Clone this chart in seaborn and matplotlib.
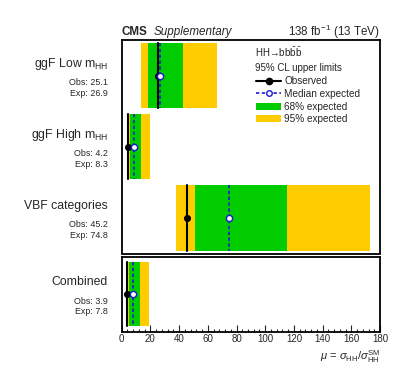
import matplotlib
matplotlib.use("Agg")
import matplotlib.pyplot as plt
from matplotlib.lines import Line2D
from matplotlib.patches import Patch
from matplotlib.ticker import MultipleLocator
import seaborn as sns
import pandas as pd

categories = ["ggF Low m$_{\\rm HH}$", "ggF High m$_{\\rm HH}$", "VBF categories", "Combined"]
observed = [25.1, 4.2, 45.2, 3.9]
expected = [26.9, 8.3, 74.8, 7.8]
lo68 = [18.6, 5.8, 51.3, 5.3]
hi68 = [42.9, 13.4, 115.4, 12.8]
lo95 = [13.4, 3.7, 37.6, 3.7]
hi95 = [66.4, 20.0, 173.3, 19.0]
obs_text = ["25.1", "4.2", "45.2", "3.9"]
exp_text = ["26.9", "8.3", "74.8", "7.8"]

sns.set_style("ticks")
plt.rcParams['font.family'] = ['Liberation Sans', 'DejaVu Sans']
plt.rcParams['mathtext.fontset'] = 'custom'
plt.rcParams['mathtext.rm'] = 'Liberation Sans'
plt.rcParams['mathtext.it'] = 'Liberation Sans:italic'

W, H = 407, 391
fig = plt.figure(figsize=(W / 100, H / 100), dpi=100)
L, R = 121.7 / W, 380 / W
ax_top = fig.add_axes([L, 1 - 253.5 / H, R - L, (253.5 - 40) / H])
ax_bot = fig.add_axes([L, 1 - 331.5 / H, R - L, (331.5 - 257) / H])

YEL = "#FFCC00"
GRN = "#00CC00"
BLU = "#1a1ad0"

df = pd.DataFrame({"cat": categories, "obs": observed, "exp": expected,
                   "lo68": lo68, "hi68": hi68, "lo95": lo95, "hi95": hi95})
top = df.iloc[:3].copy()
top["y"] = [0.5, 1.5, 2.5]
bot = df.iloc[3:].copy()
bot["y"] = [0.5]

def draw(ax, d, h):
    ax.barh(d["y"], d["hi95"] - d["lo95"], left=d["lo95"], height=h, color=YEL, linewidth=0)
    ax.barh(d["y"], d["hi68"] - d["lo68"], left=d["lo68"], height=h, color=GRN, linewidth=0)
    for _, r in d.iterrows():
        ax.plot([r["obs"], r["obs"]], [r["y"] - h / 2, r["y"] + h / 2], color="black", lw=1.5, zorder=3)
        ax.plot([r["exp"], r["exp"]], [r["y"] - h / 2, r["y"] + h / 2], color=BLU, lw=1.2,
                ls=(0, (2, 1.5)), zorder=3)
    sns.scatterplot(x=d["obs"], y=d["y"], ax=ax, color="black", s=26, zorder=4, linewidth=0, legend=False)
    sns.scatterplot(x=d["exp"], y=d["y"], ax=ax, facecolor="white", edgecolor=BLU, s=20,
                    linewidth=1.0, zorder=4, legend=False)
    for _, r in d.iterrows():
        ax.annotate(r["cat"], xy=(-0.053, r["y"]), xycoords=("axes fraction", "data"),
                    xytext=(0, 12), textcoords="offset pixels", ha="right", va="center", fontsize=8.8)
        i = categories.index(r["cat"])
        ax.annotate("Obs: " + obs_text[i], xy=(-0.053, r["y"]), xycoords=("axes fraction", "data"),
                    xytext=(0, -7), textcoords="offset pixels", ha="right", va="center", fontsize=6.4)
        ax.annotate("Exp: " + exp_text[i], xy=(-0.053, r["y"]), xycoords=("axes fraction", "data"),
                    xytext=(0, -17.5), textcoords="offset pixels", ha="right", va="center", fontsize=6.4)

draw(ax_top, top, 0.92)
draw(ax_bot, bot, 0.86)

ax_top.set_ylim(3, 0)
ax_bot.set_ylim(1, 0)
for ax in (ax_top, ax_bot):
    ax.set_xlim(0, 180)
    ax.set_yticks([])
    ax.set_ylabel("")
    ax.set_xlabel("")
    for s in ax.spines.values():
        s.set_linewidth(1.3)
        s.set_color("black")
ax_top.set_xticks([])
ax_bot.xaxis.set_major_locator(MultipleLocator(20))
ax_bot.xaxis.set_minor_locator(MultipleLocator(4))
ax_bot.tick_params(axis="x", which="major", direction="in", length=5, width=0.8, labelsize=7, pad=2)
ax_bot.tick_params(axis="x", which="minor", direction="in", length=2.5, width=0.8)

fig.text(380 / W, 1 - 357 / H, r"$\mu$ = $\sigma_{\rm HH}/\sigma^{\rm SM}_{\rm HH}$",
         ha="right", va="center", fontsize=8)

fig.text(L, 1 - 32 / H, "CMS", fontweight="bold", fontsize=8.4, ha="left", va="center")
fig.text(154 / W, 1 - 32 / H, "Supplementary", fontstyle="italic", fontsize=8.4, ha="left", va="center")
fig.text(R, 1 - 32 / H, r"138 fb$^{-1}$ (13 TeV)", fontsize=8.4, ha="right", va="center")

fig.text(255 / W, 1 - 52 / H, "HH\u2192bb$\\bar{\\rm b}\\bar{\\rm b}$", fontsize=7, ha="left", va="center")
fig.text(255 / W, 1 - 68 / H, "95% CL upper limits", fontsize=7, ha="left", va="center")

handles = [
    Line2D([], [], color="black", lw=1.5, marker="o", markersize=4.5),
    Line2D([], [], color=BLU, lw=1.2, ls=(0, (2, 1.5)), marker="o", markersize=4,
           markerfacecolor="white", markeredgecolor=BLU),
    Patch(facecolor=GRN, edgecolor="none"),
    Patch(facecolor=YEL, edgecolor="none"),
]
labels = ["Observed", "Median expected", "68% expected", "95% expected"]
ax_top.legend(handles, labels, loc="upper left", bbox_to_anchor=(256 / W, 1 - 76 / H),
              bbox_transform=fig.transFigure, frameon=False, fontsize=7.2,
              handlelength=2.5, handletextpad=0.35, labelspacing=0.28, borderpad=0, borderaxespad=0)

fig.savefig("out.png", dpi=100)
